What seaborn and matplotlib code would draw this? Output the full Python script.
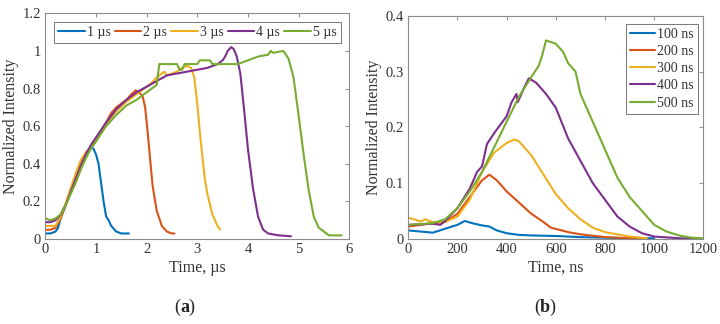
import numpy as np
import pandas as pd
import matplotlib
matplotlib.use("Agg")
import matplotlib.pyplot as plt
import seaborn as sns

# ---------------- data (a) : microsecond pulses ----------------
labels_a = ["1 µs", "2 µs", "3 µs", "4 µs", "5 µs"]
t_a1 = [0, 0.1, 0.2, 0.25, 0.3, 0.4, 0.5, 0.6, 0.7, 0.8, 0.9, 0.95, 1.0, 1.05, 1.1, 1.15, 1.2, 1.25, 1.3, 1.4, 1.5, 1.55, 1.6, 1.65]
v_a1 = [0.03, 0.03, 0.04, 0.06, 0.11, 0.18, 0.25, 0.33, 0.40, 0.45, 0.49, 0.48, 0.45, 0.40, 0.30, 0.20, 0.12, 0.10, 0.07, 0.04, 0.03, 0.03, 0.03, 0.03]
t_a2 = [0, 0.1, 0.2, 0.3, 0.4, 0.5, 0.6, 0.7, 0.8, 0.9, 1.0, 1.1, 1.2, 1.3, 1.4, 1.5, 1.6, 1.7, 1.78, 1.85, 1.92, 1.97, 2.02, 2.07, 2.12, 2.2, 2.3, 2.4, 2.5, 2.55]
v_a2 = [0.05, 0.05, 0.06, 0.11, 0.18, 0.26, 0.33, 0.40, 0.46, 0.49, 0.52, 0.57, 0.62, 0.67, 0.70, 0.72, 0.74, 0.77, 0.79, 0.78, 0.76, 0.70, 0.57, 0.42, 0.28, 0.15, 0.07, 0.04, 0.03, 0.03]
t_a3 = [0, 0.1, 0.2, 0.3, 0.4, 0.5, 0.6, 0.7, 0.8, 0.9, 1.0, 1.2, 1.4, 1.6, 1.8, 2.0, 2.1, 2.2, 2.3, 2.35, 2.4, 2.5, 2.6, 2.7, 2.8, 2.88, 2.94, 3.0, 3.05, 3.1, 3.15, 3.2, 3.3, 3.4, 3.45]
v_a3 = [0.07, 0.07, 0.07, 0.12, 0.19, 0.27, 0.35, 0.42, 0.46, 0.49, 0.52, 0.61, 0.68, 0.73, 0.77, 0.81, 0.83, 0.86, 0.88, 0.89, 0.87, 0.88, 0.89, 0.91, 0.92, 0.91, 0.86, 0.72, 0.57, 0.44, 0.32, 0.24, 0.13, 0.07, 0.05]
t_a4 = [0, 0.1, 0.2, 0.3, 0.4, 0.5, 0.6, 0.7, 0.8, 0.9, 1.0, 1.2, 1.4, 1.6, 1.8, 2.0, 2.2, 2.4, 2.6, 2.8, 3.0, 3.2, 3.4, 3.5, 3.55, 3.6, 3.67, 3.72, 3.78, 3.85, 3.92, 4.0, 4.1, 4.2, 4.3, 4.4, 4.6, 4.85]
v_a4 = [0.09, 0.09, 0.10, 0.13, 0.18, 0.25, 0.32, 0.39, 0.45, 0.50, 0.54, 0.62, 0.69, 0.74, 0.78, 0.81, 0.84, 0.87, 0.88, 0.89, 0.90, 0.91, 0.93, 0.95, 0.97, 1.00, 1.02, 1.01, 0.97, 0.88, 0.70, 0.48, 0.27, 0.12, 0.05, 0.03, 0.02, 0.015]
t_a5 = [0, 0.1, 0.2, 0.3, 0.4, 0.5, 0.6, 0.7, 0.8, 0.9, 1.0, 1.2, 1.4, 1.6, 1.8, 2.0, 2.2, 2.25, 2.4, 2.6, 2.65, 2.7, 2.75, 3.0, 3.05, 3.25, 3.3, 3.6, 3.8, 4.0, 4.2, 4.4, 4.45, 4.5, 4.7, 4.8, 4.9, 5.0, 5.1, 5.2, 5.3, 5.4, 5.5, 5.6, 5.85]
v_a5 = [0.11, 0.10, 0.11, 0.13, 0.18, 0.24, 0.30, 0.37, 0.43, 0.48, 0.52, 0.60, 0.66, 0.71, 0.74, 0.78, 0.82, 0.93, 0.93, 0.93, 0.90, 0.90, 0.93, 0.93, 0.95, 0.95, 0.93, 0.93, 0.93, 0.95, 0.97, 0.98, 1.00, 0.99, 1.00, 0.96, 0.86, 0.66, 0.45, 0.26, 0.12, 0.06, 0.04, 0.02, 0.02]

# ---------------- data (b) : nanosecond pulses ----------------
labels_b = ["100 ns", "200 ns", "300 ns", "400 ns", "500 ns"]
t_b1 = [0, 50, 100, 150, 200, 230, 260, 300, 330, 360, 400, 450, 500, 600, 700, 800, 900, 1000]
v_b1 = [0.015, 0.013, 0.011, 0.018, 0.025, 0.032, 0.028, 0.024, 0.022, 0.015, 0.010, 0.007, 0.006, 0.005, 0.003, 0.002, 0.001, 0.001]
t_b2 = [0, 50, 100, 150, 200, 250, 300, 330, 360, 400, 450, 500, 550, 580, 650, 700, 800, 900, 970]
v_b2 = [0.022, 0.025, 0.028, 0.030, 0.045, 0.075, 0.105, 0.115, 0.105, 0.085, 0.065, 0.045, 0.030, 0.020, 0.012, 0.008, 0.003, 0.001, 0.0]
t_b3 = [0, 30, 50, 70, 80, 100, 150, 200, 250, 300, 350, 400, 430, 450, 500, 550, 600, 650, 700, 750, 800, 900, 970]
v_b3 = [0.038, 0.034, 0.031, 0.035, 0.033, 0.030, 0.030, 0.040, 0.070, 0.120, 0.155, 0.172, 0.178, 0.175, 0.150, 0.115, 0.080, 0.055, 0.035, 0.020, 0.012, 0.004, 0.001]
t_b4 = [0, 100, 130, 150, 200, 250, 280, 300, 320, 350, 400, 420, 440, 445, 470, 490, 520, 560, 600, 650, 700, 750, 800, 850, 900, 950, 1000, 1100, 1200]
v_b4 = [0.025, 0.027, 0.025, 0.032, 0.055, 0.090, 0.120, 0.130, 0.170, 0.190, 0.220, 0.245, 0.260, 0.245, 0.270, 0.288, 0.280, 0.260, 0.235, 0.180, 0.140, 0.100, 0.070, 0.040, 0.022, 0.010, 0.004, 0.001, 0.0]
t_b5 = [0, 100, 150, 200, 250, 300, 350, 400, 450, 500, 530, 545, 560, 600, 630, 650, 680, 700, 750, 800, 850, 900, 950, 1000, 1050, 1100, 1150, 1200]
v_b5 = [0.025, 0.028, 0.035, 0.055, 0.085, 0.120, 0.165, 0.210, 0.255, 0.290, 0.310, 0.330, 0.356, 0.350, 0.335, 0.315, 0.300, 0.260, 0.210, 0.160, 0.110, 0.075, 0.050, 0.025, 0.013, 0.006, 0.002, 0.001]

colors = ["#0072BD", "#D95319", "#EDB120", "#7E2F8E", "#77AC30"]


def build(labels, ts, vs):
    frames = []
    for lab, t, v in zip(labels, ts, vs):
        frames.append(pd.DataFrame({"t": t, "v": v, "series": lab}))
    return pd.concat(frames, ignore_index=True)


df_a = build(labels_a, [t_a1, t_a2, t_a3, t_a4, t_a5], [v_a1, v_a2, v_a3, v_a4, v_a5])
df_b = build(labels_b, [t_b1, t_b2, t_b3, t_b4, t_b5], [v_b1, v_b2, v_b3, v_b4, v_b5])

sns.set_theme(style="white")
plt.rcParams["font.family"] = ["Liberation Serif", "DejaVu Serif"]

fig = plt.figure(figsize=(7.2, 3.24), dpi=100)
ax1 = fig.add_axes([0.063, 0.262, 0.422, 0.697])
ax2 = fig.add_axes([0.567, 0.263, 0.410, 0.688])

frame_col = "#8c8c8c"
text_col = "#333333"

for ax, df, labels in [(ax1, df_a, labels_a), (ax2, df_b, labels_b)]:
    sns.lineplot(data=df, x="t", y="v", hue="series", hue_order=labels,
                 palette=colors, estimator=None, sort=False, lw=1.5, ax=ax)
    for s in ax.spines.values():
        s.set_color(frame_col)
        s.set_linewidth(0.8)
    ax.tick_params(direction="in", length=3, width=0.7, color=frame_col,
                   top=True, right=True, labelsize=10.5, labelcolor=text_col, pad=3)
    ax.set_ylabel("Normalized Intensity", fontsize=11.5, color=text_col, labelpad=3)

ax1.set_xlim(0, 6)
ax1.set_ylim(0, 1.2)
ax1.set_xticks(range(0, 7))
ax1.set_yticks([0, 0.2, 0.4, 0.6, 0.8, 1.0, 1.2])
ax1.set_yticklabels(["0", "0.2", "0.4", "0.6", "0.8", "1", "1.2"])
ax1.set_xlabel("Time, µs", fontsize=11.5, color=text_col, labelpad=3)
leg1 = ax1.legend(ncol=5, loc="upper center", bbox_to_anchor=(0.5, 0.975),
                  frameon=True, fancybox=False, fontsize=10, handlelength=1.9,
                  handletextpad=0.15, columnspacing=0.3, borderpad=0.3,
                  borderaxespad=0.2)
leg1.get_frame().set_edgecolor("#555555")
leg1.get_frame().set_linewidth(0.7)

ax2.set_xlim(0, 1200)
ax2.set_ylim(0, 0.4)
ax2.set_xticks(range(0, 1201, 200))
ax2.set_yticks([0, 0.1, 0.2, 0.3, 0.4])
ax2.set_yticklabels(["0", "0.1", "0.2", "0.3", "0.4"])
ax2.set_xlabel("Time, ns", fontsize=11.5, color=text_col, labelpad=3)
leg2 = ax2.legend(loc="upper right", bbox_to_anchor=(0.982, 0.965),
                  frameon=True, fancybox=False, fontsize=10, handlelength=1.8,
                  handletextpad=0.15, borderpad=0.3, labelspacing=0.3,
                  borderaxespad=0.0)
leg2.get_frame().set_edgecolor("#555555")
leg2.get_frame().set_linewidth(0.7)

for leg in (leg1, leg2):
    for txt in leg.get_texts():
        txt.set_color(text_col)

fig.text(0.25, 0.052, "(", fontsize=13, ha="right", va="center", color="#222222")
fig.text(0.25, 0.052, "a", fontsize=13, fontweight="bold", ha="left", va="center", color="#222222")
fig.text(0.25 + 0.0115, 0.052, ")", fontsize=13, ha="left", va="center", color="#222222")
fig.text(0.75, 0.052, "(", fontsize=13, ha="right", va="center", color="#222222")
fig.text(0.75, 0.052, "b", fontsize=13, fontweight="bold", ha="left", va="center", color="#222222")
fig.text(0.75 + 0.0125, 0.052, ")", fontsize=13, ha="left", va="center", color="#222222")

fig.savefig("out.png", dpi=100, facecolor="white")
